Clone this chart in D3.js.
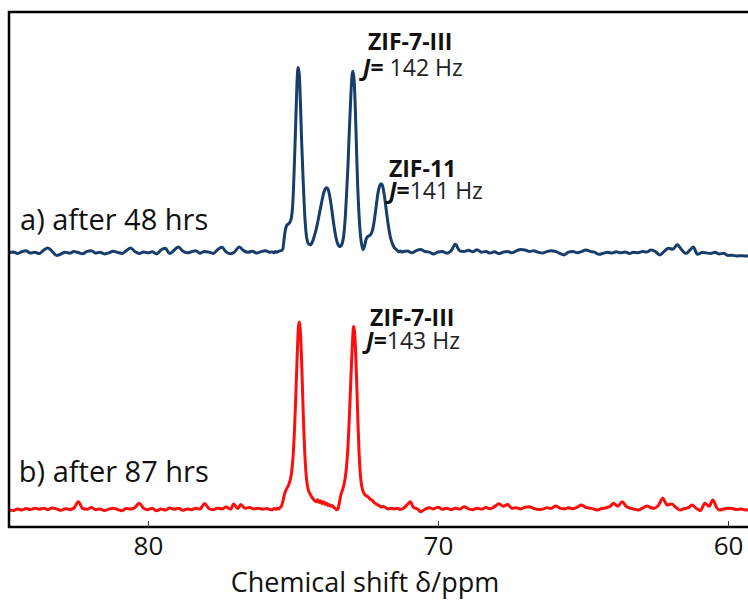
<!DOCTYPE html>
<html>
<head>
<meta charset="utf-8">
<script src="https://cdn.jsdelivr.net/npm/d3@7"></script>
<style>
  html, body { margin: 0; padding: 0; background: #fff; }
  svg { display: block; }
  text { font-family: "Open Sans", Lato, sans-serif; fill: #111; }
</style>
</head>
<body>
<svg id="chart" width="748" height="605"></svg>
<script>
// 13C NMR spectra (chemical shift in ppm, relative intensity)
const shiftTicks = [80, 70, 60];
const traceNames = ["a) after 48 hrs", "b) after 87 hrs"];
const phaseA = ["ZIF-7-III", "ZIF-11"];
const couplingA = ["142 Hz", "141 Hz"];
const phaseB = ["ZIF-7-III"];
const couplingB = ["143 Hz"];

// a) after 48 hrs
const spectrumA = [
  [84.80,-0.2],[84.65,0.3],[84.50,-0.5],[84.35,0.4],[84.20,0.9],[84.05,-0.3],[83.90,0.2],[83.75,-0.6],[83.60,1.2],[83.45,2.5],
  [83.30,0.6],[83.15,-1.6],[83.00,-0.8],[82.85,0.2],[82.70,-0.4],[82.55,0.5],[82.40,0.0],[82.25,-0.7],[82.10,0.6],[81.95,1.0],
  [81.80,-0.3],[81.65,0.2],[81.50,-0.8],[81.35,-0.2],[81.20,0.7],[81.05,0.1],[80.90,-0.5],[80.75,1.0],[80.60,2.5],[80.45,0.5],
  [80.30,-0.6],[80.15,0.3],[80.00,-0.2],[79.85,0.4],[79.70,-0.8],[79.55,1.4],[79.40,2.3],[79.25,-0.6],[79.10,1.2],[78.95,3.0],
  [78.80,0.8],[78.65,-0.2],[78.50,0.4],[78.35,0.9],[78.20,-0.4],[78.05,0.6],[77.90,0.2],[77.75,-0.5],[77.60,1.5],[77.45,2.8],
  [77.30,0.3],[77.15,-0.7],[77.00,0.5],[76.85,3.0],[76.70,1.0],[76.55,0.1],[76.40,0.7],[76.25,-0.3],[76.10,0.5],[75.95,1.0],
  [75.80,0.2],
  [75.70,0.3],[75.65,-0.2],[75.60,0.5],[75.55,0.2],[75.50,0.6],[75.45,0.9],[75.40,1.0],[75.35,1.8],[75.30,8.0],[75.25,13.0],
  [75.20,15.0],[75.15,15.5],[75.10,16.5],[75.05,19.0],[75.00,28.0],[74.95,48.0],[74.90,72.0],[74.86,92.0],[74.82,100.0],[74.78,96.0],
  [74.74,80.0],[74.70,60.0],[74.65,40.0],[74.60,22.0],[74.55,11.0],[74.50,6.0],[74.45,4.5],[74.40,4.2],[74.35,5.0],[74.30,7.0],
  [74.25,9.5],[74.20,12.5],[74.15,16.0],[74.10,20.0],[74.05,24.0],[74.00,28.0],[73.95,31.5],[73.90,34.0],[73.85,35.0],[73.80,34.5],
  [73.75,32.0],[73.70,27.5],[73.65,22.0],[73.60,16.0],[73.55,11.0],[73.50,7.0],[73.45,4.5],[73.40,3.2],[73.35,3.5],[73.30,5.0],
  [73.25,9.0],[73.20,18.0],[73.15,32.0],[73.10,48.0],[73.05,68.0],[73.00,86.0],[72.96,96.0],[72.93,98.0],[72.89,93.0],[72.85,78.0],
  [72.81,57.0],[72.77,37.0],[72.72,20.0],[72.67,9.0],[72.62,3.5],[72.58,1.5],[72.53,3.5],[72.48,7.0],[72.43,8.5],[72.38,9.0],
  [72.33,9.5],[72.28,11.0],[72.23,14.0],[72.18,19.0],[72.13,25.0],[72.08,31.0],[72.03,35.0],[71.98,37.0],[71.94,37.0],[71.90,35.5],
  [71.85,31.0],[71.80,25.0],[71.75,19.0],[71.70,13.5],[71.65,9.0],[71.60,6.0],[71.55,4.0],[71.50,2.5],[71.45,1.8],[71.40,1.0],
  [71.35,0.4],[71.30,0.8],[71.25,0.2],[71.20,0.5],
  [71.05,0.8],[70.90,-0.2],[70.75,1.0],[70.60,1.6],[70.45,0.5],[70.30,0.2],[70.15,-0.8],[70.00,0.3],[69.85,0.6],[69.70,-0.4],
  [69.55,0.8],[69.40,4.4],[69.25,0.9],[69.10,0.5],[68.95,1.2],[68.80,0.4],[68.65,1.5],[68.50,0.2],[68.35,0.5],[68.20,-0.3],
  [68.05,0.4],[67.90,-0.6],[67.75,0.2],[67.60,0.6],[67.45,-0.2],[67.30,0.9],[67.15,1.6],[67.00,1.4],[66.85,0.6],[66.70,0.9],
  [66.55,0.2],[66.40,-0.3],[66.25,0.5],[66.10,1.0],[65.95,0.6],[65.80,-0.5],[65.65,-1.3],[65.50,0.2],[65.35,0.6],[65.20,-0.1],
  [65.05,0.5],[64.90,1.4],[64.75,0.6],[64.60,0.2],[64.45,-1.0],[64.30,-0.4],[64.15,0.1],[64.00,-0.3],[63.85,0.4],[63.70,-0.2],
  [63.55,0.3],[63.40,-0.5],[63.25,0.2],[63.10,-0.1],[62.95,0.5],[62.80,0.3],[62.65,1.4],[62.50,0.5],[62.35,-1.3],[62.20,0.6],
  [62.05,2.3],[61.90,1.8],[61.75,4.2],[61.60,1.5],[61.45,-0.5],[61.30,1.5],[61.20,3.0],[61.05,-1.0],[60.90,0.0],[60.75,-0.2],
  [60.60,-0.5],[60.45,0.1],[60.30,-0.8],[60.15,-0.4],[60.00,-1.6],[59.85,-1.5],[59.70,-1.9],[59.55,-1.7],[59.40,-1.9],[59.25,-1.8]
];

// b) after 87 hrs
const spectrumB = [
  [84.80,0.2],[84.65,-0.3],[84.50,0.5],[84.35,0.0],[84.20,0.8],[84.05,0.3],[83.90,1.0],[83.75,0.4],[83.60,0.9],[83.45,0.2],
  [83.30,1.1],[83.15,0.6],[83.00,-0.2],[82.85,0.7],[82.70,0.3],[82.55,1.0],[82.40,4.5],[82.25,0.8],[82.10,0.4],[81.95,1.3],
  [81.80,0.2],[81.65,0.6],[81.50,-0.3],[81.35,0.5],[81.20,1.0],[81.05,0.3],[80.90,-0.4],[80.75,0.8],[80.60,0.5],[80.45,1.4],
  [80.30,3.6],[80.15,1.0],[80.00,0.2],[79.85,0.9],[79.70,-0.4],[79.55,0.5],[79.40,0.0],[79.25,1.1],[79.10,0.4],[78.95,0.9],
  [78.80,-0.2],[78.65,0.6],[78.50,0.2],[78.35,1.0],[78.20,0.5],[78.05,3.5],[77.90,0.8],[77.75,0.2],[77.60,1.0],[77.45,0.6],
  [77.30,1.6],[77.15,0.4],[77.05,3.2],[76.90,0.8],[76.80,3.0],[76.65,0.9],[76.50,1.4],[76.35,0.6],[76.20,1.0],[76.05,0.4],
  [75.90,0.8],[75.80,0.3],
  [75.70,0.2],[75.65,0.8],[75.60,0.4],[75.55,0.9],[75.50,0.5],[75.45,1.2],[75.40,2.0],[75.35,4.5],[75.30,8.0],[75.25,10.5],
  [75.20,12.0],[75.15,13.5],[75.10,16.0],[75.05,20.0],[75.00,28.0],[74.95,42.0],[74.90,62.0],[74.85,85.0],[74.81,99.0],[74.78,101.6],
  [74.75,98.0],[74.71,85.0],[74.67,65.0],[74.63,45.0],[74.59,30.0],[74.55,20.0],[74.50,13.0],[74.45,10.0],[74.40,8.5],[74.35,7.0],
  [74.30,6.0],[74.25,5.0],[74.20,4.5],[74.15,5.5],[74.10,4.0],[74.05,5.0],[74.00,3.5],[73.95,4.5],[73.90,3.0],[73.85,3.8],
  [73.80,2.5],[73.75,3.0],[73.70,2.0],[73.65,2.5],[73.60,1.5],[73.55,1.0],[73.50,0.2],[73.45,0.5],[73.40,4.0],[73.35,8.0],
  [73.30,10.5],[73.25,13.0],[73.20,17.0],[73.15,24.0],[73.10,35.0],[73.05,52.0],[73.00,72.0],[72.95,90.0],[72.91,99.2],[72.88,97.0],
  [72.84,86.0],[72.80,68.0],[72.76,48.0],[72.72,31.0],[72.68,20.0],[72.64,14.0],[72.60,11.0],[72.55,9.0],[72.50,8.0],[72.45,7.5],
  [72.40,7.0],[72.35,6.0],[72.30,5.5],[72.25,5.0],[72.20,4.0],[72.15,3.5],[72.10,3.0],[72.05,2.5],[72.00,2.0],[71.95,1.5],
  [71.90,2.0],[71.80,1.2],[71.70,0.6],[71.60,1.0],[71.50,0.5],[71.40,0.9],[71.30,0.3],[71.20,0.8],
  [71.05,3.0],[70.95,4.5],[70.85,1.5],[70.70,0.5],[70.60,-0.9],[70.45,0.4],[70.30,1.2],[70.15,0.6],[70.00,1.5],[69.85,0.4],
  [69.70,0.9],[69.55,0.2],[69.40,1.0],[69.25,0.5],[69.10,1.8],[68.95,0.6],[68.80,0.2],[68.65,1.0],[68.50,0.4],[68.35,1.3],
  [68.20,0.7],[68.05,1.8],[67.90,3.4],[67.75,2.0],[67.60,3.0],[67.45,0.9],[67.30,1.2],[67.15,0.6],[67.00,1.5],[66.85,1.8],
  [66.70,0.9],[66.55,0.3],[66.40,0.4],[66.25,1.2],[66.10,0.8],[65.95,2.2],[65.80,1.0],[65.65,0.6],[65.50,1.2],[65.35,0.7],
  [65.20,1.5],[65.05,2.7],[64.90,1.4],[64.75,1.0],[64.60,0.4],[64.50,0.0],[64.35,0.8],[64.20,1.2],[64.05,2.2],[63.95,3.6],
  [63.80,2.0],[63.65,4.5],[63.50,1.8],[63.35,0.9],[63.20,0.4],[63.10,0.0],[62.95,1.0],[62.80,2.2],[62.65,1.2],[62.55,0.9],
  [62.40,2.5],[62.25,6.3],[62.10,2.7],[61.95,3.2],[61.80,1.5],[61.65,0.0],[61.50,0.8],[61.35,1.4],[61.25,2.7],[61.10,1.0],
  [60.95,-0.3],[60.80,3.6],[60.65,2.0],[60.52,5.4],[60.40,1.5],[60.30,0.0],[60.15,0.5],[60.00,1.0],[59.85,0.8],[59.70,0.3],
  [59.55,0.6],[59.40,0.0],[59.25,0.2]
];

const svg = d3.select("#chart");
const W = 748, H = 605;
const frame = { left: 9, top: 12, right: 760, bottom: 527 };

// chemical shift axis runs right-to-left
const x = d3.scaleLinear().domain([84.79, 59.31]).range([frame.left, W]);
const yA = d3.scaleLinear().domain([0, 100]).range([252.5, 67.5]);
const yB = d3.scaleLinear().domain([0, 100]).range([510, 325]);

svg.append("defs").append("clipPath").attr("id", "plotClip")
  .append("rect")
  .attr("x", frame.left + 1).attr("y", frame.top)
  .attr("width", W - frame.left).attr("height", frame.bottom - frame.top - 1);

const plot = svg.append("g").attr("clip-path", "url(#plotClip)");

const lineA = d3.line().x(d => x(d[0])).y(d => yA(d[1])).curve(d3.curveMonotoneX);
const lineB = d3.line().x(d => x(d[0])).y(d => yB(d[1])).curve(d3.curveMonotoneX);

plot.append("path").datum(spectrumA)
  .attr("d", lineA)
  .attr("fill", "none").attr("stroke", "#173d6b")
  .attr("stroke-width", 3).attr("stroke-linejoin", "round");

plot.append("path").datum(spectrumB)
  .attr("d", lineB)
  .attr("fill", "none").attr("stroke", "#ff0d0d")
  .attr("stroke-width", 3).attr("stroke-linejoin", "round");

// frame (right edge runs off the page)
svg.append("rect")
  .attr("x", frame.left).attr("y", frame.top)
  .attr("width", frame.right - frame.left).attr("height", frame.bottom - frame.top)
  .attr("fill", "none").attr("stroke", "#000").attr("stroke-width", 2.5);

// bottom axis with inward ticks
const axis = svg.append("g")
  .attr("transform", `translate(0,${frame.bottom})`)
  .call(d3.axisBottom(x).tickValues(shiftTicks).tickSize(-6).tickPadding(10).tickFormat(d3.format("d")));
axis.select(".domain").remove();
axis.selectAll(".tick line").attr("stroke", "#333").attr("stroke-width", 1);
axis.selectAll(".tick text")
  .attr("font-size", 26).attr("fill", "#111")
  .style("font-family", "'Open Sans', Lato, sans-serif");

svg.append("text")
  .attr("x", 365).attr("y", 592)
  .attr("text-anchor", "middle")
  .attr("font-size", 27)
  .text("Chemical shift δ/ppm");

// trace names
svg.append("text").attr("x", x(84.41)).attr("y", yA(12.2))
  .attr("font-size", 29).text(traceNames[0]);
svg.append("text").attr("x", x(84.45)).attr("y", yB(15.1))
  .attr("font-size", 29).text(traceNames[1]);

// phase labels and coupling constants
function phaseLabel(px, py, name) {
  svg.append("text").attr("x", px).attr("y", py)
    .attr("font-size", 23).attr("font-weight", "bold").text(name);
}
function couplingLabel(px, py, value, gap) {
  const t = svg.append("text").attr("x", px).attr("y", py).attr("font-size", 23);
  t.append("tspan").attr("font-weight", "bold").attr("font-style", "italic").text("J");
  t.append("tspan").attr("font-weight", "bold").text("=");
  t.append("tspan").attr("fill", "#222").text((gap ? "\u00a0" : "") + value);
}

phaseLabel(x(72.41), yA(109.5), phaseA[0]);
couplingLabel(x(72.59), yA(95.4), couplingA[0], true);
phaseLabel(x(71.69), yA(40.8), phaseA[1]);
couplingLabel(x(71.69), yA(28.9), couplingA[1], false);

phaseLabel(x(72.34), yB(99.5), phaseB[0]);
couplingLabel(x(72.48), yB(87.0), couplingB[0], false);
</script>
</body>
</html>
